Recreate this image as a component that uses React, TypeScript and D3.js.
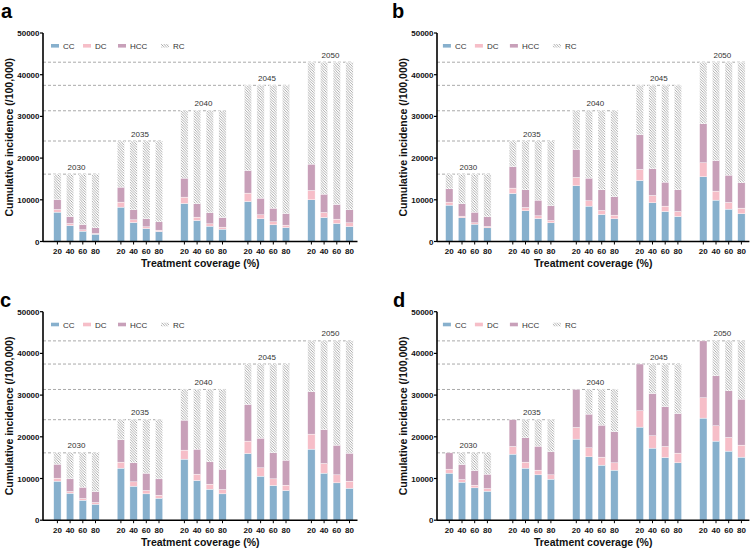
import React from 'react'
import * as d3 from 'd3'

const years = ['2030', '2035', '2040', '2045', '2050']
const coverage = ['20', '40', '60', '80']
const totals = [16150, 24100, 31350, 37450, 43000]
const yTicks = [0, 10000, 20000, 30000, 40000, 50000]
const keys = ['CC', 'DC', 'HCC', 'RC']

// panel a
const ccA = [7040, 3840, 2480, 1760, 8240, 4560, 3120, 2400, 9120, 5040, 3680, 2960, 9600, 5440, 4000, 3360, 10000, 5760, 4320, 3600]
const dcA = [640, 480, 320, 160, 1200, 640, 400, 320, 1520, 800, 560, 480, 2000, 960, 720, 560, 2240, 1200, 1040, 880]
const hccA = [2400, 1680, 1280, 1360, 3600, 2400, 1920, 2000, 4560, 3200, 2640, 2320, 5440, 4000, 3280, 2800, 6320, 4400, 3520, 3120]
// panel b
const ccB = [8720, 5680, 4160, 3280, 11520, 7360, 5520, 4480, 13360, 8480, 6480, 5440, 14640, 9280, 7200, 6000, 15520, 9920, 7760, 6640]
const dcB = [720, 400, 320, 320, 1280, 800, 640, 560, 2000, 1280, 960, 880, 2640, 1760, 1280, 1200, 3360, 2160, 1600, 1360]
const hccB = [3200, 2960, 2560, 2320, 5120, 4240, 3760, 3520, 6720, 5440, 4960, 4400, 8320, 6400, 5760, 5200, 9370, 7360, 6560, 6080]
// panel c
const ccC = [9360, 6480, 4800, 3840, 12480, 8160, 6320, 5280, 14640, 9520, 7440, 6320, 16000, 10560, 8320, 7120, 17040, 11280, 8960, 7680]
const dcC = [720, 400, 400, 400, 1440, 1040, 800, 720, 2160, 1520, 1200, 1040, 2960, 2000, 1600, 1280, 3600, 2320, 1920, 1680]
const hccC = [3360, 3040, 2720, 2640, 5360, 4560, 4160, 3920, 7200, 6000, 5360, 4880, 8810, 7120, 6240, 6000, 10160, 8160, 7120, 6720]
// panel d
const ccD = [11280, 9120, 7760, 6960, 15840, 12480, 10880, 9840, 19440, 15200, 13200, 12000, 22320, 17280, 15040, 13760, 24480, 18960, 16560, 15120]
const dcD = [960, 640, 640, 640, 1840, 1440, 1120, 1040, 2800, 2160, 1920, 1760, 3920, 2960, 2640, 2320, 4880, 3680, 3280, 2880]
const hccD = [3910, 3600, 3520, 3440, 6420, 5840, 5760, 5520, 9110, 8080, 7680, 7440, 11210, 10160, 9520, 9520, 13640, 12000, 11200, 11040]

const color: Record<string, string> = { CC: '#87b0cd', DC: '#f6bec8', HCC: '#c8a0b9', RC: 'url(#hatch)' }
const font = "Arial, 'Liberation Sans', sans-serif"

const panels = [
  { label: 'a', cc: ccA, dc: dcA, hcc: hccA, left: 43, first: 57.4, top: 33, lx: 1, ly: 18 },
  { label: 'b', cc: ccB, dc: dcB, hcc: hccB, left: 437, first: 449.3, top: 33, lx: 392, ly: 18 },
  { label: 'c', cc: ccC, dc: dcC, hcc: hccC, left: 43, first: 57.4, top: 311.7, lx: 0, ly: 307 },
  { label: 'd', cc: ccD, dc: dcD, hcc: hccD, left: 437, first: 449.3, top: 311.7, lx: 393, ly: 307 },
]

const step = 12.7
const barW = 7.4

const Panel = ({ p }: { p: typeof panels[number] }) => {
  const bottom = p.top + 208.5
  const y = d3.scaleLinear().domain([0, 50000]).range([bottom, p.top])
  // slot index: 4 bars per year + one empty slot between years
  const x = d3.scaleLinear().domain([0, 1]).range([p.first, p.first + step])
  const rows = p.cc.map((c, i) => {
    const g = Math.floor(i / 4)
    return { i, g, b: i % 4, CC: c, DC: p.dc[i], HCC: p.hcc[i], RC: totals[g] - c - p.dc[i] - p.hcc[i] }
  })
  const series = d3.stack<any>().keys(keys)(rows)
  const cx = (r: any) => x(r.g * 5 + r.b)
  const right = x(23) + 8
  const legendX = [0, 32, 67, 110].map(o => p.first - 6.4 + o)
  const legY = p.top + 13

  return (
    <g fontFamily={font}>
      <text x={p.lx} y={p.ly} fontSize={20} fontWeight="bold" fill="#000">{p.label}</text>

      {/* dashed year totals */}
      {years.map((yr, g) => {
        const xr = x(g * 5 + 3) + barW / 2
        const xm = (x(g * 5) + x(g * 5 + 3)) / 2
        return (
          <g key={yr}>
            <line x1={p.left} x2={xr} y1={y(totals[g])} y2={y(totals[g])} stroke="#aaa" strokeWidth={1} strokeDasharray="3,2" />
            <text x={xm} y={y(totals[g]) - 4.5} fontSize={8} fill="#333" textAnchor="middle">{yr}</text>
          </g>
        )
      })}

      {series.map(s => (
        <g key={s.key} fill={color[s.key]}>
          {s.map((d, k) => (
            <rect key={k} x={cx(d.data) - barW / 2} width={barW} y={y(d[1])} height={Math.max(0, y(d[0]) - y(d[1]))}
              stroke="#fff" strokeWidth={0.4} />
          ))}
        </g>
      ))}

      {/* legend */}
      {keys.map((k, j) => (
        <g key={k}>
          <rect x={legendX[j]} y={legY - 2} width={8} height={3.6} fill={color[k]} />
          <text x={legendX[j] + 12} y={legY + 2.8} fontSize={8} fill="#333">{k}</text>
        </g>
      ))}

      {/* y axis */}
      <line x1={p.left} x2={p.left} y1={bottom} y2={p.top} stroke="#000" strokeWidth={1.6} />
      {yTicks.map(t => (
        <g key={t}>
          <line x1={p.left - 3} x2={p.left} y1={y(t)} y2={y(t)} stroke="#000" strokeWidth={1.2} />
          <text x={p.left - 3.5} y={y(t) + 3} fontSize={8} fontWeight="bold" textAnchor="end" fill="#111">{t}</text>
        </g>
      ))}
      {/* x axis */}
      <line x1={p.left} x2={right} y1={bottom} y2={bottom} stroke="#000" strokeWidth={1.6} />
      {rows.map(r => (
        <g key={r.i}>
          <line x1={cx(r)} x2={cx(r)} y1={bottom} y2={bottom + 3} stroke="#000" strokeWidth={1} />
          <text x={cx(r)} y={bottom + 12.5} fontSize={8} fontWeight="bold" textAnchor="middle" fill="#111">{coverage[r.b]}</text>
        </g>
      ))}
      <text x={(p.left + right) / 2} y={bottom + 25.5} fontSize={10.5} fontWeight="bold" textAnchor="middle" fill="#111">Treatment coverage (%)</text>
      <text transform={`translate(${p.left - 30},${(p.top + bottom) / 2}) rotate(-90)`} fontSize={10.5} fontWeight="bold" textAnchor="middle" fill="#111">Cumulative incidence (/100,000)</text>
    </g>
  )
}

export default function App() {
  return (
    <svg width={750} height={550} style={{ position: 'absolute', left: 0, top: 0, background: '#fff' }}>
      <defs>
        <pattern id="hatch" patternUnits="userSpaceOnUse" width={2.6} height={2.6}>
          <rect width={2.6} height={2.6} fill="#fff" />
          <path d="M0,0 L2.6,2.6 M-1.3,1.3 L1.3,3.9 M1.3,-1.3 L3.9,1.3" stroke="#8c8c8c" strokeWidth={0.7} />
        </pattern>
      </defs>
      {panels.map(p => <Panel key={p.label} p={p} />)}
    </svg>
  )
}
